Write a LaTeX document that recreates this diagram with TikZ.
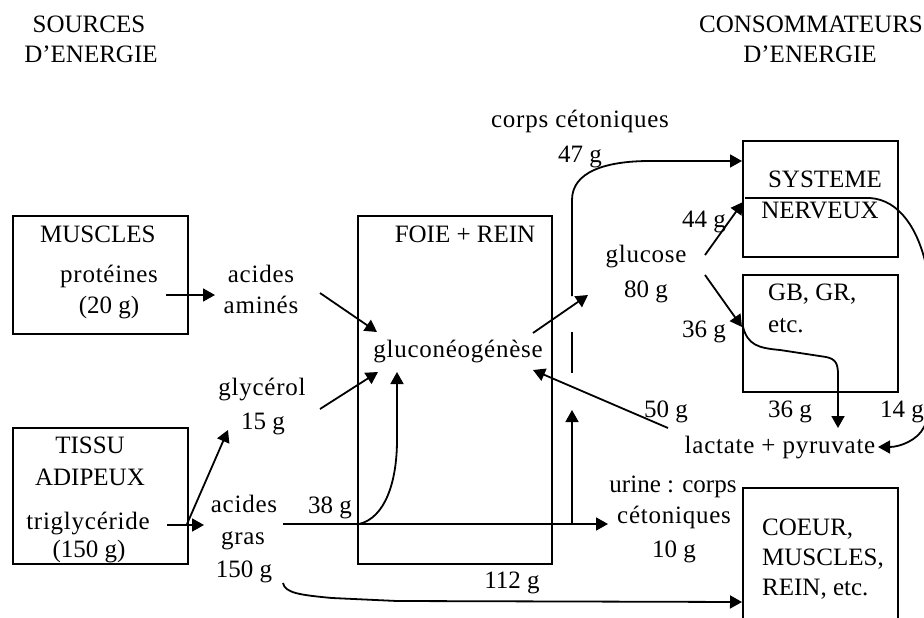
\documentclass[tikz,border=0pt]{standalone}
\usepackage{fontspec}
\setmainfont{Liberation Serif}
\newfontfamily\lsf[LetterSpace=3]{Liberation Serif}
\usetikzlibrary{arrows.meta}
\begin{document}
\begin{tikzpicture}[x=1pt,y=-1pt,
  t/.style={anchor=base, inner sep=0pt, font=\fontsize{25}{30}\selectfont},
  ts/.style={anchor=base, inner sep=0pt, font=\fontsize{25}{30}\selectfont\lsf},
  tl/.style={t, anchor=base west},
  box/.style={draw, line width=1.8pt, inner sep=0pt},
  ln/.style={line width=1.8pt},
  arr/.style={ln, -{Triangle[length=12pt,width=13pt]}}]
\useasboundingbox (0,0) rectangle (924,618);
\clip (0,0) rectangle (924,618);

% headers
\node[t] (h1) at (89,33) {SOURCES};
\node[t] (h2) at (91,63) {D'ENERGIE};
\node[t] (h3) at (811,33) {CONSOMMATEURS};
\node[t] (h4) at (810,63) {D'ENERGIE};

% boxes
\node[box, minimum width=175pt, minimum height=118pt] (muscles) at (100.5,275) {};
\node[box, minimum width=175pt, minimum height=136pt] (tissu) at (100.5,496) {};
\node[box, minimum width=194pt, minimum height=348pt] (foie) at (455,390) {};
\node[box, minimum width=155pt, minimum height=116pt] (sn) at (820.5,199) {};
\node[box, minimum width=155pt, minimum height=117pt] (gb) at (820.5,333.5) {};
\draw[ln] (743,630) -- (743,488) -- (898,488) -- (898,630);

% box texts
\node[tl] (mu) at (40,242) {MUSCLES};
\node[ts] (prot) at (109,282) {protéines};
\node[t] (p20) at (109,313) {(20 g)};
\node[t] (ti) at (90,453) {TISSU};
\node[t] (ad) at (90,485) {ADIPEUX};
\node[ts] (tri) at (88,529) {triglycéride};
\node[t] (p150) at (89,557) {(150 g)};
\node[t] (fr) at (465,242) {FOIE + REIN};
\node[ts] (glu) at (458,357) {gluconéogénèse};
\node[t] (sy) at (825,187) {SYSTEME};
\node[t] (ne) at (820,218) {NERVEUX};
\node[tl] (gbt) at (768,300) {GB, GR,};
\node[tl] (etc) at (768,332) {etc.};
\node[tl] (co) at (762,535) {COEUR,};
\node[tl] (mu2) at (762,565) {MUSCLES,};
\node[tl] (re) at (762,595) {REIN, etc.};

% free labels
\node[ts] (aa1) at (261,282) {acides};
\node[ts] (aa2) at (261,313) {aminés};
\node[ts] (gly) at (262,395) {glycérol};
\node[t] (g15) at (263,429) {15 g};
\node[ts] (ag1) at (244,512) {acides};
\node[ts] (ag2) at (243,544) {gras};
\node[t] (ag3) at (244,577) {150 g};
\node[t] (g38) at (330,513) {38 g};
\node[t] (g112) at (512,588) {112 g};
\node[ts] (cc1) at (580,127) {corps cétoniques};
\node[t] (g47) at (580,162) {47 g};
\node[ts] (gluc) at (646,262) {glucose};
\node[t] (g80) at (646,297) {80 g};
\node[t] (g44) at (704,227) {44 g};
\node[t] (g36a) at (704,337) {36 g};
\node[t] (g50) at (666,417) {50 g};
\node[t] (g36b) at (790,417) {36 g};
\node[tl] (g14) at (880,417) {14 g};
\node[ts] (lac) at (780,453) {lactate + pyruvate};
\node[t] (ur1) at (673,492) {urine : corps};
\node[ts] (ur2) at (674,523) {cétoniques};
\node[t] (g10) at (674,557) {10 g};

% connector end points
\coordinate (c1a) at (166,295); \coordinate (c1b) at (215,295);
\coordinate (c2a) at (320,293); \coordinate (c2b) at (377,332);
\coordinate (c3a) at (320,409); \coordinate (c3b) at (378,372);
\coordinate (c4a) at (187,524); \coordinate (c4b) at (228,430);
\coordinate (c5a) at (167,525); \coordinate (c5b) at (204,525);
\coordinate (c6a) at (283,524); \coordinate (c6b) at (608,524);
\coordinate (c7a) at (359,524); \coordinate (c7b) at (397,372);
\coordinate (c8a) at (572,524); \coordinate (c8b) at (572,410);
\coordinate (c9a) at (572,373); \coordinate (c9b) at (572,332);
\coordinate (c10a) at (572,296); \coordinate (c10b) at (742,161);
\coordinate (c11a) at (533,333); \coordinate (c11b) at (588,295);
\coordinate (c12a) at (705,255); \coordinate (c12b) at (743,202);
\coordinate (c13a) at (745,198); \coordinate (c13b) at (878,447);
\coordinate (c14a) at (705,275); \coordinate (c14b) at (742,327);
\coordinate (c15a) at (743,327); \coordinate (c15b) at (838,428);
\coordinate (c16a) at (668,428); \coordinate (c16b) at (533,370);
\coordinate (c17a) at (283,583); \coordinate (c17b) at (742,602);

% connectors
\draw[arr] (c1a) -- (c1b);
\draw[arr] (c2a) -- (c2b);
\draw[arr] (c3a) -- (c3b);
\draw[arr] (c4a) -- (c4b);
\draw[arr] (c5a) -- (c5b);
\draw[arr] (c6a) -- (c6b);
\draw[arr] (c7a) .. controls (385,518) and (397,482) .. (397,440) -- (c7b);
\draw[arr] (c8a) -- (c8b);
\draw[ln] (c9a) -- (c9b);
\draw[arr] (c10a) -- (572,200) .. controls (572,172) and (605,161) .. (650,161) -- (c10b);
\draw[arr] (c11a) -- (c11b);
\draw[arr] (c12a) -- (c12b);
\draw[arr] (c13a) -- (870,198) .. controls (900,200) and (918,230) .. (926,265)
  .. controls (940,330) and (940,400) .. (924,427)
  .. controls (918,440) and (900,447) .. (c13b);
\draw[arr] (c14a) -- (c14b);
\draw[arr] (c15a) .. controls (748,345) and (758,348) .. (780,350) -- (826,357)
  .. controls (836,359) and (838,364) .. (838,375) -- (c15b);
\draw[arr] (c16a) -- (c16b);
\draw[arr] (c17a) .. controls (285,593) and (300,595) .. (332,598) -- (397,601) -- (c17b);
\end{tikzpicture}
\end{document}
